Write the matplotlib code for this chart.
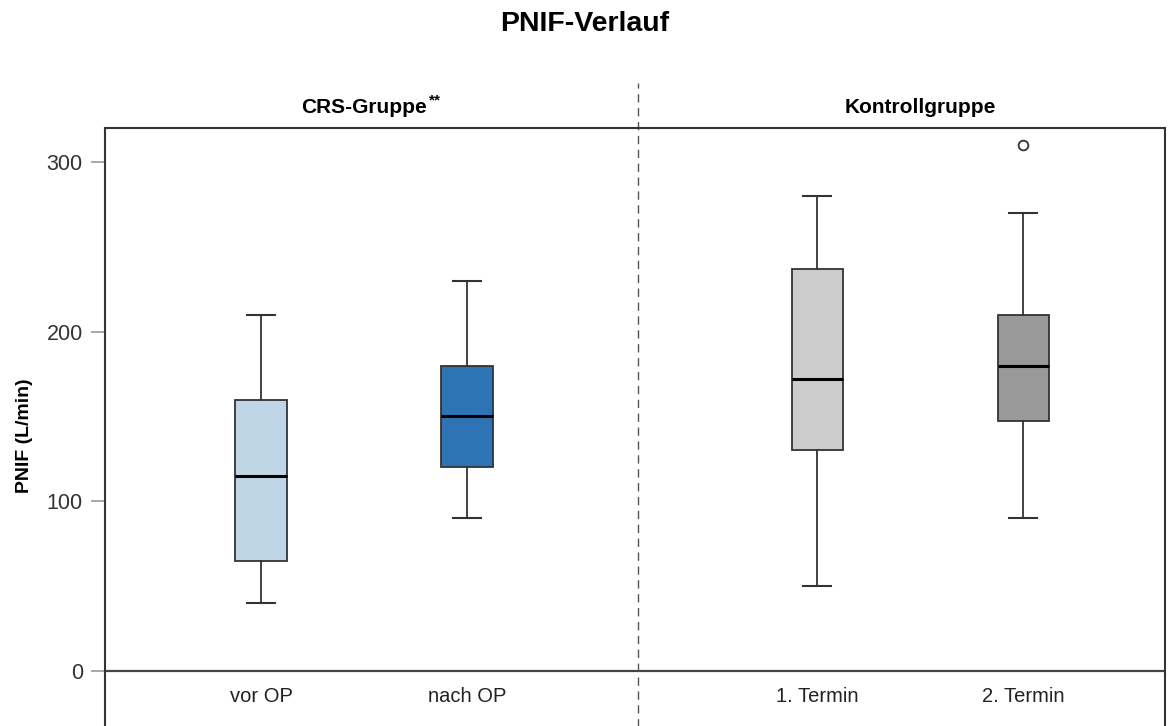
import matplotlib.pyplot as plt

plt.rcParams['font.family'] = ['Liberation Sans', 'DejaVu Sans']

# data
labels = ['vor OP', 'nach OP', '1. Termin', '2. Termin']
positions = [1, 2, 3.7, 4.7]
whislo = [40, 90, 50, 90]
q1 = [65, 120, 130, 147.5]
med = [115, 150, 172, 180]
q3 = [160, 180, 237, 210]
whishi = [210, 230, 280, 270]
fliers = [[], [], [], [310]]
colors = ['#BFD6E6', '#2E73B4', '#CCCCCC', '#999999']
groups = ['CRS-Gruppe', 'Kontrollgruppe']

stats = []
for i in range(len(labels)):
    stats.append({'whislo': whislo[i], 'q1': q1[i], 'med': med[i], 'q3': q3[i],
                  'whishi': whishi[i], 'fliers': fliers[i], 'label': labels[i]})

fig = plt.figure(figsize=(11.71, 7.26), dpi=100)
ax = fig.add_axes([0.0897, -0.0248, 0.9052, 0.8485])

edge = '#333333'
bp = ax.bxp(stats, positions=positions, widths=0.25, capwidths=0.135,
            patch_artist=True, showfliers=True,
            boxprops=dict(edgecolor=edge, linewidth=1.3),
            whiskerprops=dict(color=edge, linewidth=1.3),
            capprops=dict(color=edge, linewidth=1.5),
            medianprops=dict(color='black', linewidth=2.2),
            flierprops=dict(marker='o', markersize=7, markerfacecolor='white',
                            markeredgecolor=edge, markeredgewidth=1.3))
for patch, c in zip(bp['boxes'], colors):
    patch.set_facecolor(c)

ax.set_xlim(0.243, 5.388)
ax.set_ylim(-43, 320)

# zero line
ax.axhline(0, color='#444444', linewidth=1.6, zorder=1)

# divider between the groups
ax.plot([2.83, 2.83], [-43, 346.5], color='#555555', linewidth=1,
        linestyle=(0, (6, 4)), clip_on=False)

ax.set_xticks([])
ax.set_yticks([0, 100, 200, 300])
ax.tick_params(axis='y', direction='out', length=10, width=1.2, color='#999999',
               labelsize=15.5, labelcolor='#333333', pad=6)
for lab, p in zip(labels, positions):
    ax.text(p, -15, lab, ha='center', va='center', fontsize=14.5, color='#222222')

for s in ['top', 'right', 'left']:
    ax.spines[s].set_color('#333333')
    ax.spines[s].set_linewidth(1.5)
ax.spines['bottom'].set_visible(False)

ax.set_ylabel('PNIF (L/min)', fontsize=14, fontweight='bold', labelpad=10)

t1 = ax.text((positions[0] + positions[1]) / 2, 332, groups[0], ha='center', va='center',
             fontsize=15, fontweight='bold', clip_on=False)
ax.annotate('**', xy=(1, 1), xycoords=t1, xytext=(1.5, 3), textcoords='offset points',
            ha='left', va='top', fontsize=11, fontweight='bold')
ax.text((positions[2] + positions[3]) / 2, 332, groups[1], ha='center', va='center',
        fontsize=15, fontweight='bold', clip_on=False)

fig.text(0.4996, 1 - 24 / 726, 'PNIF-Verlauf', ha='center', va='center',
         fontsize=20.5, fontweight='bold')

fig.savefig('out.png', dpi=100)
